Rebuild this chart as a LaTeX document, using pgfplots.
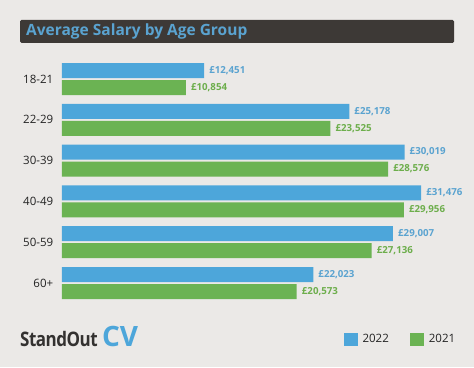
\documentclass[border=0pt]{standalone}
\usepackage{pgfplots}
\pgfplotsset{compat=1.18}
\usepackage{fontspec}
\setmainfont{Open Sans}
\newfontfamily\logofont[LetterSpace=-3]{Open Sans}
\definecolor{bg}{HTML}{EBE9E7}
\definecolor{tbar}{HTML}{3D3936}
\definecolor{blu}{HTML}{4DA6DA}
\definecolor{grn}{HTML}{6BB353}
\definecolor{blut}{HTML}{5AA3D0}
\definecolor{grnt}{HTML}{6DAE4C}
\definecolor{txt}{HTML}{222222}
\definecolor{logo}{HTML}{333130}
\begin{document}
\begin{tikzpicture}
\fill[bg] (0pt,0pt) rectangle (474pt,367pt);
\fill[tbar, rounded corners=1.5pt] (20pt,324pt) rectangle (454pt,347pt);
\node[anchor=west, inner sep=0pt, text=blut, font=\fontsize{15.5}{18}\selectfont\bfseries] at (26pt,335.5pt) {Average Salary by Age Group};
\node[anchor=base west, inner sep=0pt, text=logo, font=\fontsize{20}{24}\logofont\bfseries] (so) at (20pt,21pt) {\scalebox{0.85}[1]{StandOut}};
\node[anchor=base west, inner sep=0pt, text=blu, font=\fontsize{28}{30}\selectfont\bfseries] at ([xshift=4pt]so.base east) {CV};
\begin{axis}[
  at={(62pt,63.6pt)}, anchor=south west,
  scale only axis, width=392pt, height=244.8pt,
  xmin=0, xmax=34386, ymin=-0.5, ymax=5.5,
  xbar, bar width=15pt,
  axis line style={draw=none}, tick style={draw=none},
  xtick=\empty,
  ytick={0,1,2,3,4,5},
  yticklabels={60+,50-59,40-49,30-39,22-29,18-21},
  yticklabel style={font=\fontsize{11.5}{14}\selectfont, text=txt, xshift=-1pt},
  nodes near coords={£\pgfmathprintnumber[fixed,precision=0,1000 sep={,},assume math mode=true]{\pgfplotspointmeta}},
  nodes near coords style={anchor=west, inner sep=0pt, xshift=5pt, font=\fontsize{9.7}{11}\selectfont\bfseries},
  legend style={at={(rel axis cs:1,-0.147)}, anchor=east, xshift=4pt, draw=none, fill=none,
    legend columns=2, font=\fontsize{11.5}{14}\selectfont, text=txt,
    nodes={inner sep=0pt},
    /tikz/every odd column/.append style={column sep=5pt},
    /tikz/every even column/.append style={column sep=21pt}},
  legend image code/.code={\fill[#1] (0pt,-6.5pt) rectangle (14pt,6.5pt);},
  clip=false,
]
\addplot[fill=blu, draw=none, bar shift=8.5pt, nodes near coords style={text=blut}] coordinates {
(12451,5) (25178,4) (30019,3) (31476,2) (29007,1) (22023,0)};
\addlegendentry{2022}
\addplot[fill=grn, draw=none, bar shift=-8.5pt, nodes near coords style={text=grnt}] coordinates {
(10854,5) (23525,4) (28576,3) (29956,2) (27136,1) (20573,0)};
\addlegendentry{2021}
\end{axis}
\end{tikzpicture}
\end{document}
